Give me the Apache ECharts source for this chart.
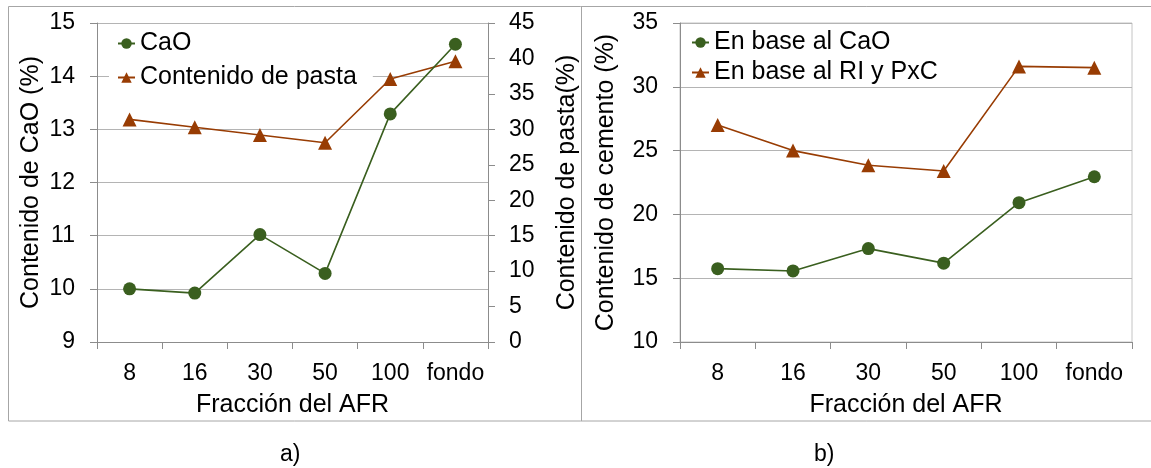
<!DOCTYPE html>
<html>
<head>
<meta charset="utf-8">
<script src="https://cdn.jsdelivr.net/npm/echarts@6/dist/echarts.min.js"></script>
<style>
html,body{margin:0;padding:0;background:#fff;}
#c{width:1151px;height:468px;}
</style>
</head>
<body>
<div id="c"></div>
<script>
// ---- data ----
var categories = ['8', '16', '30', '50', '100', 'fondo'];
var caoA = [10.0, 9.92, 11.02, 10.29, 13.29, 14.6];          // Contenido de CaO (%), left axis
var pastaA = [31.4, 30.3, 29.2, 28.1, 37.1, 39.6];            // Contenido de pasta (%), right axis
var caoB = [15.75, 15.57, 17.32, 16.18, 20.92, 22.95];        // En base al CaO
var riB = [27.0, 25.0, 23.85, 23.4, 31.6, 31.5];              // En base al RI y PxC
var leftTicks = {min: 9, max: 15, interval: 1};
var pastaTicks = {min: 0, max: 45, interval: 5};
var cementTicks = {min: 10, max: 35, interval: 5};

var FONT = 'Liberation Sans, Arial, sans-serif';
var GREEN = '#3a5f1f';
var BROWN = '#983c03';
var AXIS = '#8c8c8c';
var GRID = '#b4b4b4';
var TICKFS = 23, NAMEFS = 25, LEGFS = 25;

function xAxis(gi) {
  return {
    type: 'category', gridIndex: gi, data: categories, boundaryGap: true,
    axisLine: {lineStyle: {color: AXIS, width: 1}},
    axisTick: {show: true, interval: 0, length: 7, lineStyle: {color: AXIS}},
    axisLabel: {fontSize: TICKFS, fontFamily: FONT, color: '#000', margin: 20, interval: 0},
    name: 'Fracción del AFR', nameLocation: 'middle', nameGap: 51,
    nameTextStyle: {fontSize: NAMEFS, fontFamily: FONT, color: '#000'},
    splitLine: {show: false}
  };
}
function yAxis(gi, t, pos, name, gap, margin, split) {
  return {
    type: 'value', gridIndex: gi, position: pos, min: t.min, max: t.max, interval: t.interval,
    axisLine: {show: true, lineStyle: {color: AXIS, width: 1}},
    axisTick: {show: true, length: 7, lineStyle: {color: AXIS}},
    axisLabel: {fontSize: TICKFS, fontFamily: FONT, color: '#000', margin: margin},
    splitLine: {show: split, lineStyle: {color: GRID, width: 1}},
    name: name, nameLocation: 'middle', nameRotate: 90, nameGap: gap,
    nameTextStyle: {fontSize: NAMEFS, fontFamily: FONT, color: '#000'}
  };
}
function lineSeries(name, data, xi, yi, color, sym, size) {
  return {
    type: 'line', name: name, data: data, xAxisIndex: xi, yAxisIndex: yi,
    symbol: sym, symbolSize: size, showAllSymbol: true,
    lineStyle: {color: color, width: 1.6},
    itemStyle: {color: color},
    emphasis: {disabled: true}, animation: false
  };
}

var chart = echarts.init(document.getElementById('c'), null, {renderer: 'canvas'});
chart.setOption({
  backgroundColor: '#fff',
  animation: false,
  textStyle: {fontFamily: FONT},
  grid: [
    {left: 97, top: 23, width: 391, height: 319},
    {left: 680, top: 23, width: 452, height: 319, show: true, borderColor: '#c4c4c4', borderWidth: 1, backgroundColor: 'transparent'}
  ],
  xAxis: [xAxis(0), xAxis(1)],
  yAxis: [
    yAxis(0, leftTicks, 'left', 'Contenido de CaO (%)', 53, 22, true),
    yAxis(0, pastaTicks, 'right', 'Contenido de pasta(%)', 67, 21, false),
    yAxis(1, cementTicks, 'left', 'Contenido de cemento (%)', 61, 22, true)
  ],
  legend: [
    {
      data: ['CaO', 'Contenido de pasta'], orient: 'vertical', left: 109, top: 27,
      padding: [4, 16, 4, 8], backgroundColor: '#fff',
      itemWidth: 17, itemHeight: 13, itemGap: 9,
      textStyle: {fontSize: LEGFS, fontFamily: FONT, color: '#000', lineHeight: 25}
    },
    {
      data: ['En base al CaO', 'En base al RI y PxC'], orient: 'vertical', left: 691, top: 30,
      padding: 0, itemWidth: 17, itemHeight: 13, itemGap: 5,
      textStyle: {fontSize: LEGFS, fontFamily: FONT, color: '#000', lineHeight: 25}
    }
  ],
  series: [
    lineSeries('Contenido de pasta', pastaA, 0, 1, BROWN, 'triangle', 14),
    lineSeries('CaO', caoA, 0, 0, GREEN, 'circle', 13),
    lineSeries('En base al CaO', caoB, 1, 2, GREEN, 'circle', 13),
    lineSeries('En base al RI y PxC', riB, 1, 2, BROWN, 'triangle', 14)
  ],
  graphic: [
    {type: 'rect', shape: {x: 8.5, y: 6.5, width: 1150, height: 414.5}, style: {fill: 'none', stroke: '#a6a6a6', lineWidth: 1}, silent: true, z: -1},
    {type: 'line', shape: {x1: 581.5, y1: 6.5, x2: 581.5, y2: 421}, style: {stroke: '#a6a6a6', lineWidth: 1}, silent: true, z: -1},
    {type: 'text', left: 280, top: 443, style: {text: 'a)', fontSize: 23, fontFamily: FONT, fill: '#000'}},
    {type: 'text', left: 814, top: 443, style: {text: 'b)', fontSize: 23, fontFamily: FONT, fill: '#000'}}
  ]
});
</script>
</body>
</html>
